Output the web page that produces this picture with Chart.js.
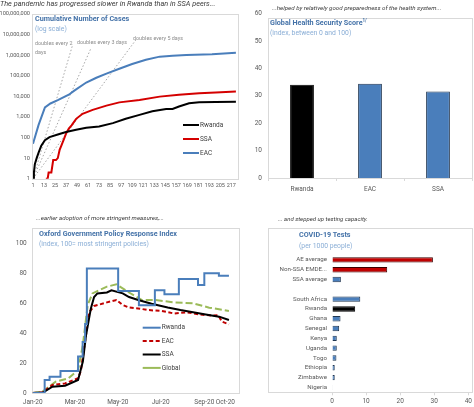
<!DOCTYPE html>
<html>
<head>
<meta charset="utf-8">
<script src="https://cdn.jsdelivr.net/npm/chart.js@4.4.1/dist/chart.umd.min.js"></script>
<style>
  html, body { margin: 0; padding: 0; background: #fff; }
  body { width: 474px; height: 407px; position: relative; overflow: hidden; font-family: Roboto, "Open Sans", sans-serif; }
  .panel { position: absolute; }
  .txt { position: absolute; white-space: nowrap; line-height: 1; }
  .sub { font-style: italic; color: #3a3a3a; }
  .ttl { font-weight: bold; color: #4472a8; font-size: 7.2px; }
  .unit { color: #8aaed6; font-size: 6.8px; }
  .note { color: #8c8c8c; font-size: 5.4px; }
  sup { font-size: 4.5px; }
</style>
</head>
<body>
<div class="panel" style="left:0;top:0;width:240px;height:200px"><canvas id="cases"></canvas></div>
<div class="panel" style="left:240px;top:0;width:234px;height:200px"><canvas id="ghs"></canvas></div>
<div class="panel" style="left:0;top:205px;width:240px;height:202px"><canvas id="oxford"></canvas></div>
<div class="panel" style="left:240px;top:205px;width:234px;height:202px"><canvas id="tests"></canvas></div>

<div class="txt sub" style="left:0;top:0;font-size:7.3px">The pandemic has progressed slower in Rwanda than in SSA peers...</div>
<div class="txt ttl" style="left:35px;top:14.5px">Cumulative Number of Cases</div>
<div class="txt unit" style="left:35px;top:25.5px">(log scale)</div>
<div class="txt note" style="left:35px;top:40.5px">doubles every 2</div>
<div class="txt note" style="left:35px;top:50px">days</div>
<div class="txt note" style="left:77px;top:39.5px">doubles every 3 days</div>
<div class="txt note" style="left:133px;top:35.5px">doubles every 5 days</div>

<div class="txt sub" style="left:272px;top:5px;font-size:6.2px">...helped by relatively good preparedness of the health system...</div>
<div class="txt ttl" style="left:270px;top:19px">Global Health Security Score<sup>1/</sup></div>
<div class="txt unit" style="left:270px;top:30px">(index, between 0 and 100)</div>

<div class="txt sub" style="left:36px;top:215px;font-size:6.2px">...earlier adoption of more stringent measures,...</div>
<div class="txt ttl" style="left:39px;top:230px">Oxford Government Policy Response Index</div>
<div class="txt unit" style="left:39px;top:241px">(index, 100= most stringent policies)</div>

<div class="txt sub" style="left:278px;top:216px;font-size:6px">... and stepped up testing capacity.</div>
<div class="txt ttl" style="left:299px;top:231px">COVID-19 Tests</div>
<div class="txt unit" style="left:299px;top:243px">(per 1000 people)</div>

<script>
// ---- Cumulative number of cases (days since first case) ----
const caseDayTicks = [1, 13, 25, 37, 49, 61, 73, 85, 97, 109, 121, 133, 145, 157, 169, 181, 193, 205, 217];
const caseValueTicks = [1, 10, 100, 1000, 10000, 100000, 1000000, 10000000, 100000000];

const rwandaDays = [1, 2, 3, 5, 7, 10, 14, 19, 28, 37, 48, 59, 73, 88, 102, 117, 131, 146, 153, 160, 171, 182, 200, 222];
const rwandaCases = [1, 2, 5, 10, 18, 40, 75, 105, 140, 185, 240, 300, 345, 500, 810, 1260, 1900, 2450, 2450, 3200, 4600, 5100, 5300, 5500];

const ssaDays = [15, 17, 18, 21, 23, 26, 28, 30, 32, 35, 37, 40, 43, 48, 55, 66, 81, 95, 117, 139, 160, 182, 200, 222];
const ssaCases = [1, 1, 2, 2, 8, 8, 10, 25, 42, 90, 155, 270, 390, 810, 1420, 2200, 3550, 5100, 6700, 9700, 12000, 14000, 15500, 17000];

const eacDays = [1, 7, 14, 20, 28, 40, 46, 59, 70, 81, 95, 109, 124, 139, 153, 168, 196, 222];
const eacCases = [50, 400, 2900, 4500, 6500, 12000, 19000, 47000, 80000, 127000, 220000, 370000, 600000, 850000, 950000, 1020000, 1100000, 1300000];

const double2Days = [1, 44];
const double2Cases = [1, 3000000];
const double3Days = [1, 64];
const double3Cases = [1, 2100000];
const double5Days = [1, 113];
const double5Cases = [1, 5500000];

// ---- Global Health Security Score ----
const ghsCategories = ['Rwanda', 'EAC', 'SSA'];
const ghsScores = [34.0, 34.4, 31.6];

// ---- Oxford stringency index (day of 2020) ----
const oxTickDays = [0, 60, 121, 182, 244, 274];
const oxTickLabels = ['Jan-20', 'Mar-20', 'May-20', 'Jul-20', 'Sep-20', 'Oct-20'];
const oxValueTicks = [0, 20, 40, 60, 80, 100];

// each Rwanda value holds from its day until the next one
const rwandaOxDays = [0, 17, 24, 39.5, 64.5, 71, 74.5, 77, 121.5, 151, 173.7, 187.3, 207.8, 235, 244, 264.7, 279];
const rwandaOx = [0, 8.7, 10.9, 14.7, 24.4, 34, 46, 83, 68, 58.5, 68.5, 65.8, 76, 72, 79.8, 78.2, 78.2];

const eacOxDays = [0, 14, 28, 46, 64.5, 68.6, 73.7, 80.5, 87.3, 105.5, 119, 128, 137, 150, 164, 183, 201, 219, 237, 255, 264, 269, 279];
const eacOx = [0, 0.5, 5.3, 6.4, 9.8, 15, 32, 54, 58, 60.4, 62, 58.7, 57, 56.4, 55.3, 54.7, 53, 53.8, 52.4, 51.6, 51.8, 47.6, 45.8];

const ssaOxDays = [0, 14.5, 28, 46, 64.5, 71.3, 75.9, 82.7, 87.3, 92, 105.5, 112, 128, 137, 150, 169, 192, 210, 228, 246, 265, 279];
const ssaOx = [0, 0.3, 4.2, 4.9, 8.7, 21, 38.7, 56.4, 64, 66.4, 67, 68.5, 66.4, 64, 62, 59.5, 57, 55.3, 53.8, 52.4, 50.9, 48.7];

const globalOxDays = [0, 14, 32.7, 50.9, 64.5, 71.3, 78.2, 85, 105.5, 119, 137, 155.5, 173.7, 201, 228, 251, 279];
const globalOx = [0, 1, 7.6, 9.8, 15.3, 32, 58.7, 66.4, 70.9, 72.4, 67, 62, 62, 60.4, 59.8, 56.9, 54.7];

// ---- COVID-19 tests per 1000 people ----
const testCountries = ['AE average', 'Non-SSA EMDE...', 'SSA average', '', 'South Africa', 'Rwanda', 'Ghana', 'Senegal', 'Kenya', 'Uganda', 'Togo', 'Ethiopia', 'Zimbabwe', 'Nigeria'];
const testsPer1000 = [29.6, 16.2, 2.6, null, 8.3, 6.8, 2.5, 2.1, 1.4, 1.4, 1.3, 0.8, 0.8, 0.2];
const testTicks = [0, 10, 20, 30, 40];

// colours
const BLUE = '#4a7ebb';
const RED = '#d40000';
const DARKRED = '#c00000';
const GREEN = '#9bbb59';
const GRID = '#d9d9d9';
const TICK = '#595959';

Chart.defaults.font.family = 'Roboto, "Open Sans", sans-serif';
Chart.defaults.color = TICK;
Chart.defaults.animation = false;
Chart.defaults.responsive = true;
Chart.defaults.maintainAspectRatio = false;
Chart.defaults.plugins.legend.display = false;
Chart.defaults.plugins.tooltip.enabled = false;

const pts = (xs, ys) => xs.map((x, i) => ({ x: x, y: ys[i] }));
const fixWidth = w => s => { s.width = w; };
const fixHeight = h => s => { s.height = h; };
const setTicks = vals => s => { s.ticks = vals.map(v => ({ value: v })); };
const noGrid = { display: false, drawTicks: false };

// frame box + manual legend, drawn in canvas pixels
const decor = {
    id: 'decor',
    beforeDraw(chart, args, opts) {
        if (!opts.box) return;
        const c = chart.ctx;
        const [x, y, w, h] = opts.box;
        c.save();
        c.strokeStyle = GRID;
        c.lineWidth = 1;
        c.strokeRect(x + 0.5, y + 0.5, w, h);
        c.restore();
    },
    afterDraw(chart, args, opts) {
        if (!opts.legend) return;
        const c = chart.ctx;
        const lg = opts.legend;
        c.save();
        c.font = lg.size + 'px Roboto, "Open Sans", sans-serif';
        c.textBaseline = 'middle';
        lg.items.forEach((it, i) => {
            const y = lg.y + i * lg.gap;
            c.strokeStyle = it.color;
            c.lineWidth = 2;
            c.setLineDash(it.dash || []);
            c.beginPath();
            c.moveTo(lg.x, y);
            c.lineTo(lg.x + lg.len, y);
            c.stroke();
            c.fillStyle = '#404040';
            c.fillText(it.label, lg.x + lg.len + 1, y);
        });
        c.restore();
    }
};

function lineSet(label, data, color, extra) {
    return Object.assign({
        label: label,
        data: data,
        borderColor: color,
        borderWidth: 2,
        pointRadius: 0,
        fill: false,
        tension: 0
    }, extra || {});
}

// Panel 1: cumulative cases
new Chart(document.getElementById('cases'), {
    type: 'line',
    data: {
        datasets: [
            lineSet('Rwanda', pts(rwandaDays, rwandaCases), '#000000'),
            lineSet('SSA', pts(ssaDays, ssaCases), RED),
            lineSet('EAC', pts(eacDays, eacCases), BLUE),
            lineSet('2 days', pts(double2Days, double2Cases), '#a6a6a6', { borderWidth: 1, borderDash: [1.5, 2] }),
            lineSet('3 days', pts(double3Days, double3Cases), '#a6a6a6', { borderWidth: 1, borderDash: [1.5, 2] }),
            lineSet('5 days', pts(double5Days, double5Cases), '#a6a6a6', { borderWidth: 1, borderDash: [1.5, 2] })
        ]
    },
    options: {
        layout: { padding: { top: 14, right: 2, left: 0, bottom: 0 } },
        plugins: {
            decor: {
                box: [32, 14, 206, 165],
                legend: {
                    x: 183, y: 125, gap: 14, len: 16, size: 6.5,
                    items: [
                        { label: 'Rwanda', color: '#000000' },
                        { label: 'SSA', color: RED },
                        { label: 'EAC', color: BLUE }
                    ]
                }
            }
        },
        scales: {
            x: {
                type: 'linear', min: 1, max: 223.5,
                afterFit: fixHeight(21.3),
                afterBuildTicks: setTicks(caseDayTicks),
                grid: noGrid, border: { display: false },
                ticks: { font: { size: 5.5 }, padding: 4, maxRotation: 0, autoSkip: false }
            },
            y: {
                type: 'logarithmic', min: 1, max: 100000000,
                afterFit: fixWidth(33),
                afterBuildTicks: setTicks(caseValueTicks),
                grid: noGrid, border: { display: false },
                ticks: { font: { size: 5.6 }, padding: 3, callback: v => Number(v).toLocaleString('en-US') }
            }
        }
    },
    plugins: [decor]
});

// Panel 2: Global Health Security Score
new Chart(document.getElementById('ghs'), {
    type: 'bar',
    data: {
        labels: ghsCategories,
        datasets: [{
            data: ghsScores,
            backgroundColor: ['#000000', BLUE, BLUE],
            borderColor: ['#000000', '#1f3550', '#1f3550'],
            borderWidth: 1,
            categoryPercentage: 1,
            barPercentage: 0.35
        }]
    },
    options: {
        layout: { padding: { top: 13.6, right: 2, left: 0, bottom: 0 } },
        plugins: { decor: { box: [28, 18, 204, 160] } },
        scales: {
            x: {
                afterFit: fixHeight(22),
                grid: { display: true, drawOnChartArea: false, tickLength: 3, color: GRID },
                border: { display: true, color: GRID },
                ticks: { font: { size: 6.5 }, padding: 4 }
            },
            y: {
                min: 0, max: 60,
                afterFit: fixWidth(28),
                ticks: { stepSize: 10, font: { size: 6.5 }, padding: 6 },
                grid: noGrid, border: { display: false }
            }
        }
    },
    plugins: [decor]
});

// Panel 3: Oxford stringency index
new Chart(document.getElementById('oxford'), {
    type: 'line',
    data: {
        datasets: [
            lineSet('Rwanda', pts(rwandaOxDays, rwandaOx), BLUE, { stepped: 'before' }),
            lineSet('SSA', pts(ssaOxDays, ssaOx), '#000000'),
            lineSet('EAC', pts(eacOxDays, eacOx), DARKRED, { borderDash: [4, 2.5] }),
            lineSet('Global', pts(globalOxDays, globalOx), GREEN, { borderDash: [7, 3] })
        ]
    },
    options: {
        layout: { padding: { top: 23, right: 1, left: 0, bottom: 0 } },
        plugins: {
            decor: {
                box: [32, 23, 207, 165],
                legend: {
                    x: 142.7, y: 122.7, gap: 13.4, len: 18, size: 6.5,
                    items: [
                        { label: 'Rwanda', color: BLUE },
                        { label: 'EAC', color: DARKRED, dash: [4, 2.5] },
                        { label: 'SSA', color: '#000000' },
                        { label: 'Global', color: GREEN }
                    ]
                }
            }
        },
        scales: {
            x: {
                type: 'linear', min: 0, max: 281.5,
                afterFit: fixHeight(14),
                afterBuildTicks: setTicks(oxTickDays),
                grid: noGrid, border: { display: false },
                ticks: {
                    font: { size: 6.5 }, padding: 5, maxRotation: 0, autoSkip: false,
                    callback: v => oxTickLabels[oxTickDays.indexOf(v)]
                }
            },
            y: {
                min: 0, max: 110,
                afterFit: fixWidth(32.7),
                afterBuildTicks: setTicks(oxValueTicks),
                grid: noGrid, border: { display: false },
                ticks: { font: { size: 6.5 }, padding: 6 }
            }
        }
    },
    plugins: [decor]
});

// Panel 4: COVID-19 tests
new Chart(document.getElementById('tests'), {
    type: 'bar',
    data: {
        labels: testCountries,
        datasets: [{
            data: testsPer1000,
            backgroundColor: testCountries.map((c, i) => i < 2 ? DARKRED : (c === 'Rwanda' ? '#000000' : BLUE)),
            borderColor: testCountries.map((c, i) => i < 2 ? '#3a0000' : (c === 'Rwanda' ? '#000000' : '#1f3550')),
            borderWidth: 1,
            categoryPercentage: 1,
            barPercentage: 0.55
        }]
    },
    options: {
        indexAxis: 'y',
        layout: { padding: { top: 50, right: 3, left: 0, bottom: 0 } },
        plugins: { decor: { box: [28, 23, 204, 164] } },
        scales: {
            x: {
                min: 0, max: 40,
                afterFit: fixHeight(14.7),
                afterBuildTicks: setTicks(testTicks),
                grid: { display: true, drawOnChartArea: false, tickLength: 3, color: GRID },
                border: { display: true, color: GRID },
                ticks: { font: { size: 6.5 }, padding: 2 }
            },
            y: {
                afterFit: fixWidth(92),
                grid: noGrid, border: { display: false },
                ticks: { font: { size: 6.2 }, padding: 5, autoSkip: false }
            }
        }
    },
    plugins: [decor]
});
</script>
</body>
</html>
